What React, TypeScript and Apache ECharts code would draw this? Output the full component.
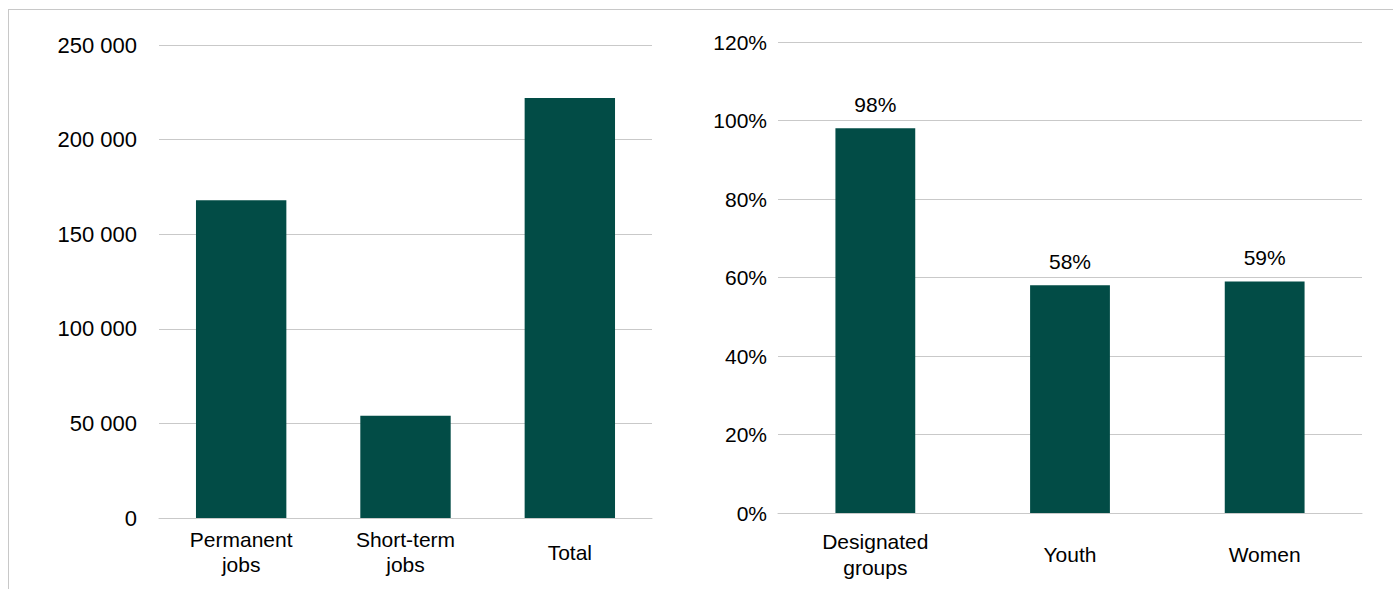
import React, { useEffect, useRef } from "react";
import * as echarts from "echarts";

const jobCategories = ["Permanent\njobs", "Short-term\njobs", "Total"];
const jobValues = [168000, 54000, 222000];
const jobTicks = [0, 50000, 100000, 150000, 200000, 250000];

const groupCategories = ["Designated\ngroups", "Youth", "Women"];
const groupValues = [0.98, 0.58, 0.59];
const pctTicks = [0, 0.2, 0.4, 0.6, 0.8, 1.0, 1.2];

const BAR = "#024c46";
const GRID = "#c9c9c9";
const FONT = "'Liberation Sans', Arial, sans-serif";

export default function App() {
  const ref = useRef<HTMLDivElement>(null);
  useEffect(() => {
    if (!ref.current) return;
    const chart = echarts.init(ref.current, undefined, { renderer: "svg" });
    const fmtNum = (v: number) =>
      String(v).replace(/\B(?=(\d{3})+(?!\d))/g, " ");
    chart.setOption({
      animation: false,
      backgroundColor: "#ffffff",
      textStyle: { fontFamily: FONT },
      graphic: [
        { type: "line", shape: { x1: 8, y1: 9.5, x2: 1393, y2: 9.5 }, style: { stroke: "#c8c8c8", lineWidth: 1 } },
        { type: "line", shape: { x1: 8.5, y1: 9, x2: 8.5, y2: 589 }, style: { stroke: "#c8c8c8", lineWidth: 1 } },
      ],
      grid: [
        { left: 159, right: 1393 - 652, top: 45, bottom: 589 - 518 },
        { left: 778, right: 1393 - 1362, top: 42, bottom: 589 - 513 },
      ],
      xAxis: [
        {
          type: "category",
          gridIndex: 0,
          data: jobCategories,
          axisLine: { show: true, lineStyle: { color: GRID, width: 1 } },
          axisTick: { show: false },
          axisLabel: { color: "#000", fontSize: 21, fontFamily: FONT, margin: 34, verticalAlign: "middle", lineHeight: 25 },
        },
        {
          type: "category",
          gridIndex: 1,
          data: groupCategories,
          axisLine: { show: true, lineStyle: { color: GRID, width: 1 } },
          axisTick: { show: false },
          axisLabel: { color: "#000", fontSize: 21, fontFamily: FONT, margin: 41, verticalAlign: "middle", lineHeight: 26 },
        },
      ],
      yAxis: [
        {
          type: "value",
          gridIndex: 0,
          min: jobTicks[0],
          max: jobTicks[jobTicks.length - 1],
          interval: jobTicks[1] - jobTicks[0],
          axisLine: { show: false },
          axisTick: { show: false },
          splitLine: { lineStyle: { color: GRID, width: 1 } },
          axisLabel: { color: "#000", fontSize: 22, fontFamily: FONT, margin: 22, formatter: (v: number) => fmtNum(v) },
        },
        {
          type: "value",
          gridIndex: 1,
          min: pctTicks[0],
          max: pctTicks[pctTicks.length - 1],
          interval: 0.2,
          axisLine: { show: false },
          axisTick: { show: false },
          splitLine: { lineStyle: { color: GRID, width: 1 } },
          axisLabel: { color: "#000", fontSize: 21, fontFamily: FONT, margin: 11, formatter: (v: number) => Math.round(v * 100) + "%" },
        },
      ],
      series: [
        {
          type: "bar",
          xAxisIndex: 0,
          yAxisIndex: 0,
          data: jobValues,
          barWidth: "55%",
          itemStyle: { color: BAR },
        },
        {
          type: "bar",
          xAxisIndex: 1,
          yAxisIndex: 1,
          data: groupValues,
          barWidth: "41%",
          itemStyle: { color: BAR },
          label: {
            show: true,
            position: "top",
            distance: 13,
            color: "#000",
            fontSize: 21,
            fontFamily: FONT,
            formatter: (p: any) => Math.round(p.value * 100) + "%",
          },
        },
      ],
    });
    return () => chart.dispose();
  }, []);
  return (
    <div
      ref={ref}
      style={{ position: "absolute", left: 0, top: 0, width: 1393, height: 589 }}
    />
  );
}
